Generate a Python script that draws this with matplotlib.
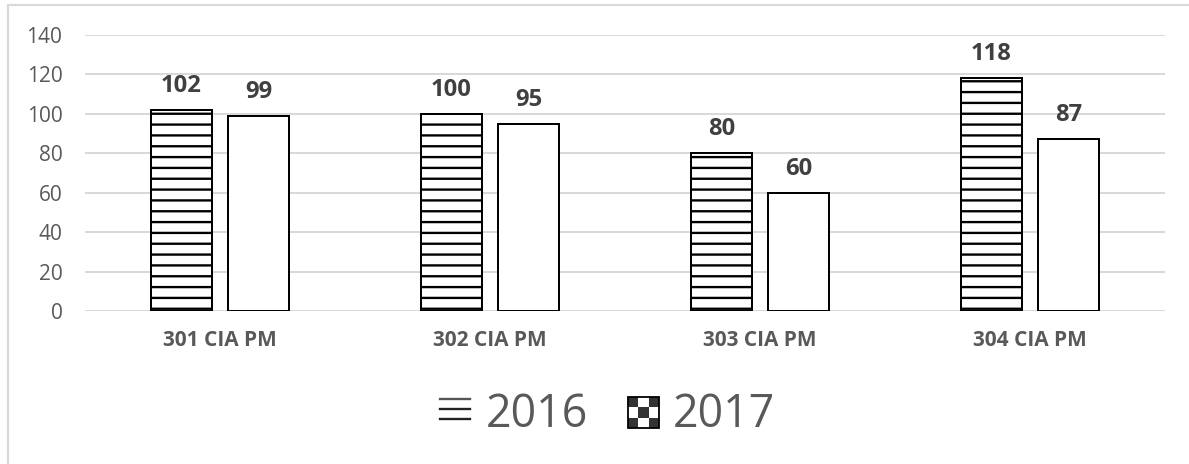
import matplotlib
matplotlib.use("Agg")
import matplotlib.pyplot as plt
from matplotlib.patches import Rectangle
from matplotlib.lines import Line2D
import numpy as np

categories = ["301 CIA PM", "302 CIA PM", "303 CIA PM", "304 CIA PM"]
series_names = ["2016", "2017"]
values_2016 = [102, 100, 80, 118]
values_2017 = [99, 95, 60, 87]
y_ticks = [0, 20, 40, 60, 80, 100, 120, 140]

W, H, DPI = 1189, 464, 130
plt.rcParams['font.family'] = ['Open Sans', 'DejaVu Sans']
plt.rcParams['hatch.linewidth'] = 1.3
plt.rcParams['hatch.color'] = 'black'

fig = plt.figure(figsize=(W / DPI, H / DPI), dpi=DPI)

def fx(x):
    return x / W

def fy(y):
    return 1 - y / H

# chart frame
fig.patches.append(Rectangle((fx(8), fy(470)), fx(1200) - fx(8), fy(5) - fy(470),
                             transform=fig.transFigure, fill=False,
                             edgecolor='#d9d9d9', linewidth=1.2))

left, right, top, bottom = 85, 1165, 35, 311
ax = fig.add_axes([fx(left), fy(bottom), fx(right) - fx(left), fy(top) - fy(bottom)])

x = np.arange(len(categories))
bw = 0.226
off = 0.1426
b1 = ax.bar(x - off, values_2016, bw, facecolor='white', edgecolor='black',
            linewidth=1.1, hatch='--', zorder=3)
b2 = ax.bar(x + off, values_2017, bw, facecolor='white', edgecolor='black',
            linewidth=1.1, zorder=3)

for bars, vals in ((b1, values_2016), (b2, values_2017)):
    for rect, v in zip(bars, vals):
        ax.annotate(str(v), (rect.get_x() + rect.get_width() / 2, v),
                    xytext=(0, 10), textcoords='offset points',
                    ha='center', va='baseline', fontsize=13.2,
                    fontweight='bold', color='#404040', zorder=5)

ax.set_xlim(-0.5, len(categories) - 0.5)
ax.set_ylim(0, 140)
ax.set_yticks(y_ticks)
ax.set_xticks(x)
ax.set_xticklabels(categories, fontsize=11.6, fontweight='bold', color='#595959')
ax.tick_params(axis='y', length=0, pad=12.5, labelsize=11.6, labelcolor='#595959')
ax.tick_params(axis='x', length=0, pad=10.5)
ax.grid(axis='y', color='#d9d9d9', linewidth=1.1, zorder=0)
ax.set_axisbelow(True)
for s in ax.spines.values():
    s.set_visible(False)

# legend (drawn manually)
for yy, c in ((399, '#555555'), (409, '#222222'), (419, '#222222')):
    fig.lines.append(Line2D([fx(440), fx(470)], [fy(yy), fy(yy)],
                            transform=fig.transFigure, color=c, linewidth=1.3))
fig.text(fx(486), fy(427), series_names[0], fontsize=24.8, color='#595959',
         ha='left', va='baseline')

cx0, cy0, cs = 628, 397, 10.3
for i in range(3):
    for j in range(3):
        col = '#333333' if (i + j) % 2 == 0 else 'white'
        fig.patches.append(Rectangle((fx(cx0 + j * cs), fy(cy0 + (i + 1) * cs)),
                                     cs / W, cs / H, transform=fig.transFigure,
                                     facecolor=col, edgecolor='none'))
fig.patches.append(Rectangle((fx(cx0), fy(cy0 + 3 * cs)), 3 * cs / W, 3 * cs / H,
                             transform=fig.transFigure, fill=False,
                             edgecolor='black', linewidth=1.0))
fig.text(fx(673), fy(427), series_names[1], fontsize=24.8, color='#595959',
         ha='left', va='baseline')

fig.savefig("out.png", dpi=DPI, facecolor='white')
